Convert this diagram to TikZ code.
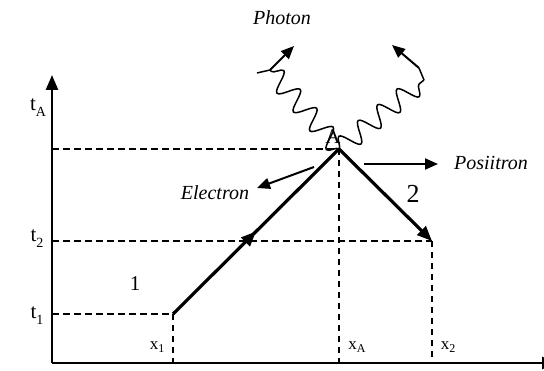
\documentclass[tikz,border=0pt]{standalone}
\usepackage{fontspec}
\setmainfont{Liberation Serif}
\usetikzlibrary{arrows.meta,decorations.pathmorphing,decorations.markings}
\newcommand{\subs}[1]{\raisebox{-0.28em}{\fontsize{14}{14}\selectfont #1}}
\newcommand{\xsubs}[1]{\raisebox{-0.15em}{\fontsize{12}{12}\selectfont #1}}
\begin{document}
\begin{tikzpicture}[x=1pt,y=-1pt,
  axis/.style={line width=2.5pt,-{Triangle[length=15pt,width=12pt]}},
  guide/.style={line width=1.2pt,dash pattern=on 6.5pt off 4.5pt},
  world/.style={line width=3.2pt},
  worldarrow/.style={line width=3.2pt,-{Triangle[length=15pt,width=12pt]}},
  midarrow/.style={postaction={decorate},decoration={markings,mark=at position 0.5 with {\arrow{Triangle[length=15pt,width=12pt]}}}},
  photon/.style={line width=1.5pt,decorate,decoration={snake,amplitude=10pt,segment length=25pt}},
  smallarrow/.style={line width=2pt,-{Triangle[length=13pt,width=11pt]}},
  lab/.style={font=\fontsize{21}{24}\selectfont,inner sep=0pt},
  itlab/.style={font=\fontsize{20}{22}\selectfont\itshape,inner sep=0pt},
  xlab/.style={font=\fontsize{17}{19}\selectfont,inner sep=0pt}
]
\useasboundingbox (0,0) rectangle (544,371);
\coordinate (O) at (52,363);
\coordinate (ytop) at (52,75);
\coordinate (xend) at (557,363);
\coordinate (P1) at (173,314);
\coordinate (A) at (339,149);
\coordinate (P2) at (432,241);
\coordinate (yA) at (52,149);
\coordinate (y2) at (52,241);
\coordinate (y1) at (52,314);
\coordinate (x1) at (173,363);
\coordinate (xA) at (339,363);
\coordinate (x2) at (432,363);
% axes
\draw[axis] (O) -- (ytop);
\draw[axis] (O) -- (xend);
% guides
\draw[guide] (yA) -- (A);
\draw[guide] (y2) -- (P2);
\draw[guide] (y1) -- (P1);
\draw[guide] (P1) -- (x1);
\draw[guide] (A) -- (xA);
\draw[guide] (P2) -- (x2);
% world lines
\draw[world,midarrow] (P1) -- (A);
\draw[worldarrow] (A) -- (P2);
% photons
\coordinate (L) at (270,70);
\coordinate (Lt) at (257,73);
\coordinate (Lh) at (294,46);
\coordinate (R) at (424,80);
\coordinate (Rt) at (419,68);
\coordinate (Rh) at (392,45);
\draw[photon] (A) -- (L);
\draw[line width=1.5pt] (L) -- (Lt);
\draw[smallarrow] (L) -- (Lh);
\draw[photon] (A) -- (R);
\draw[line width=1.5pt] (R) -- (Rt);
\draw[smallarrow] (Rt) -- (Rh);
% particle arrows
\coordinate (e1) at (314,167);
\coordinate (e2) at (257,188);
\coordinate (p1) at (364,164);
\coordinate (p2) at (438,164);
\draw[smallarrow] (e1) -- (e2);
\draw[smallarrow] (p1) -- (p2);
% labels
\node[itlab] (photonlab) at (282,18) {Photon};
\node[itlab] (electronlab) at (215,193) {Electron};
\node[itlab] (positronlab) at (491,163) {Posiitron};
\node[lab] (Alab) at (333,137) {A};
\node[font=\fontsize{26}{28}\selectfont,inner sep=0pt] (two) at (413,194) {2};
\node[lab] (one) at (135,284) {1};
\node[lab] (tA) at (38,108) {t\subs{A}};
\node[lab] (t2) at (37,239) {t\subs{2}};
\node[lab] (t1) at (37,316) {t\subs{1}};
\node[xlab] (x1lab) at (157,347) {x\xsubs{1}};
\node[xlab] (xAlab) at (357,347) {x\xsubs{A}};
\node[xlab] (x2lab) at (448,347) {x\xsubs{2}};
\end{tikzpicture}
\end{document}
